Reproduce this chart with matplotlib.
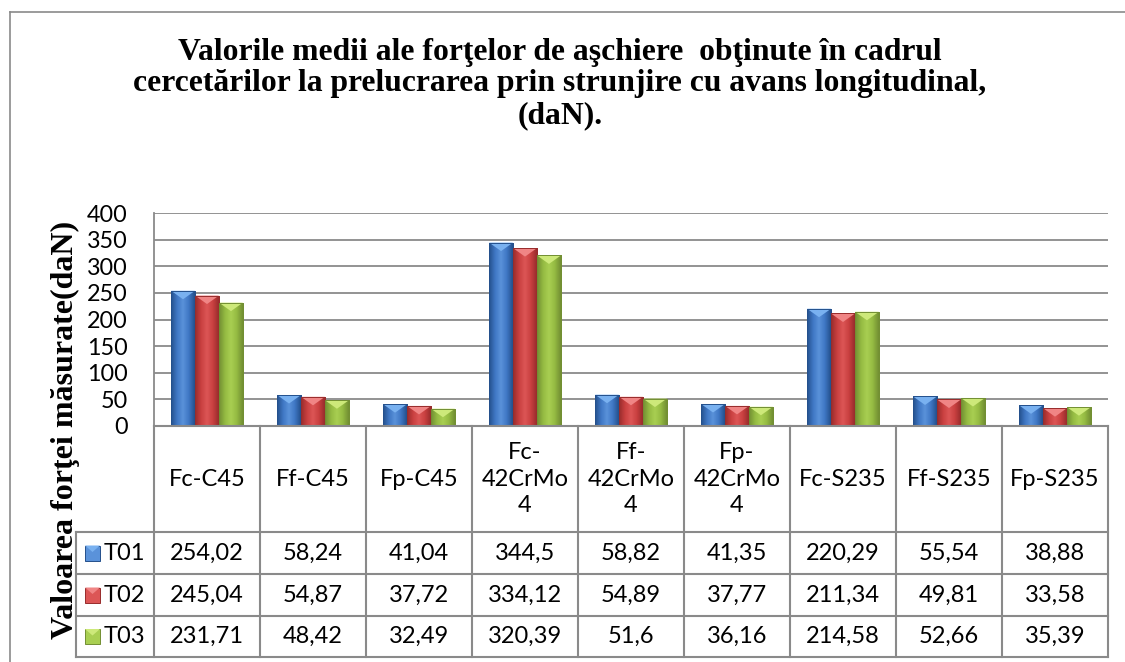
import numpy as np
import matplotlib
matplotlib.use('Agg')
import matplotlib.pyplot as plt
from matplotlib.colors import LinearSegmentedColormap
from matplotlib.patches import Polygon, Rectangle
from matplotlib.lines import Line2D

# ── Data ──
categories = ['Fc-C45', 'Ff-C45', 'Fp-C45', 'Fc-\n42CrMo\n4', 'Ff-\n42CrMo\n4',
              'Fp-\n42CrMo\n4', 'Fc-S235', 'Ff-S235', 'Fp-S235']
series_names = ['T01', 'T02', 'T03']
t01 = [254.02, 58.24, 41.04, 344.5, 58.82, 41.35, 220.29, 55.54, 38.88]
t02 = [245.04, 54.87, 37.72, 334.12, 54.89, 37.77, 211.34, 49.81, 33.58]
t03 = [231.71, 48.42, 32.49, 320.39, 51.6, 36.16, 214.58, 52.66, 35.39]
yticks = [0, 50, 100, 150, 200, 250, 300, 350, 400]

title = ('Valorile medii ale forţelor de aşchiere  obţinute în cadrul\n'
         'cercetărilor la prelucrarea prin strunjire cu avans longitudinal,\n'
         '(daN).')
ylabel = 'Valoarea forţei măsurate(daN)'

# (dark edge, body, light, highlight for the bevel)
palette = [
    ('#24508C', '#3F77C4', '#5A92DA', '#79B1F0'),
    ('#982C2C', '#C94040', '#DC5656', '#F08585'),
    ('#728F33', '#94BA42', '#A9CF52', '#CDE97A'),
]
GRID = '#8A8A8A'

W, H = 1125, 662
fig = plt.figure(figsize=(W / 100, H / 100), dpi=100)
fx = lambda px: px / W
fy = lambda py: 1 - py / H

serif = 'Liberation Serif'
sans = 'Lato'

# outer chart frame (only top/left edges fall inside the image)
fig.add_artist(Line2D([fx(10), fx(1125)], [fy(12), fy(12)], transform=fig.transFigure, color=GRID, lw=1.2))
fig.add_artist(Line2D([fx(10), fx(10)], [fy(12), fy(662)], transform=fig.transFigure, color=GRID, lw=1.2))

fig.text(fx(560), fy(84), title, ha='center', va='center', fontsize=22.8,
         fontweight='bold', family=serif, linespacing=1.13)
fig.text(fx(65), fy(430), ylabel, ha='center', va='center', rotation=90,
         fontsize=23, fontweight='bold', family=serif)

# ── Bars ──
L, R, T, B = 154, 1108, 213, 426
ax = fig.add_axes([fx(L), fy(B), (R - L) / W, (B - T) / H])
n = len(categories)
x = np.arange(n)
bw = 0.226


def shade_bar(ax, p, cols, tri_h):
    dark, body, light, hi = cols
    x0, w, h = p.get_x(), p.get_width(), p.get_height()
    cmap = LinearSegmentedColormap.from_list('b', [dark, body, light, body, dark])
    grad = np.linspace(0, 1, 64).reshape(1, -1)
    im = ax.imshow(grad, cmap=cmap, extent=(x0, x0 + w, 0, h), aspect='auto',
                   zorder=3, interpolation='bilinear')
    im.set_clip_path(p)
    tri = Polygon([(x0, h), (x0 + w, h), (x0 + w / 2, h - min(tri_h, h))],
                  closed=True, facecolor=hi, edgecolor='none', zorder=4)
    ax.add_patch(tri)


for i, vals in enumerate([t01, t02, t03]):
    bars = ax.bar(x + (i - 1) * bw, vals, width=bw, color=palette[i][1],
                  edgecolor=palette[i][0], linewidth=0.7, zorder=3)
    for p in bars:
        shade_bar(ax, p, palette[i], 16)
        # outline drawn over the gradient
        ax.add_patch(Rectangle((p.get_x(), 0), p.get_width(), p.get_height(),
                               fill=False, edgecolor=palette[i][0], lw=0.7, zorder=5))

ax.set_xlim(-0.5, n - 0.5)
ax.set_ylim(0, 400)
ax.set_yticks(yticks)
ax.set_xticks([])
ax.yaxis.grid(True, color=GRID, lw=1.3, zorder=0)
ax.set_axisbelow(True)
for s in ['top', 'right', 'bottom']:
    ax.spines[s].set_visible(False)
ax.spines['left'].set_color(GRID)
ax.spines['left'].set_linewidth(1.3)
ax.tick_params(axis='y', length=0, pad=19, labelsize=16.8)
for lab in ax.get_yticklabels():
    lab.set_family(sans)

# ── Data table ──
TB = 657
tab = fig.add_axes([fx(L), fy(TB), (R - L) / W, (TB - B) / H])
tab.set_xlim(-0.5, n - 0.5)
tab.set_ylim(TB, B)
tab.axis('off')
upx = n / (R - L)              # category units per pixel
leg_left = -0.5 - (L - 76) * upx
rows = [B, 532, 574, 616, TB]

kw = dict(color=GRID, lw=1.5, clip_on=False)
tab.plot([-0.5, n - 0.5], [B, B], **kw)
for yy in rows[1:]:
    tab.plot([leg_left, n - 0.5], [yy, yy], **kw)
for k in range(n + 1):
    tab.plot([k - 0.5, k - 0.5], [B, TB], **kw)
tab.plot([leg_left, leg_left], [rows[1], TB], **kw)

FS = 17
for k, c in enumerate(categories):
    tab.text(k, (rows[0] + rows[1]) / 2, c, ha='center', va='center',
             fontsize=FS, family=sans, linespacing=1.35)

for r, (name, vals) in enumerate(zip(series_names, [t01, t02, t03])):
    yc = (rows[r + 1] + rows[r + 2]) / 2
    for k, v in enumerate(vals):
        tab.text(k, yc, str(v).replace('.', ','), ha='center', va='center',
                 fontsize=FS, family=sans)
    # legend key
    dark, body, light, hi = palette[r]
    sx0 = -0.5 - (L - 85) * upx
    sw = 15 * upx
    sq = Rectangle((sx0, yc + 7.5), sw, -15, facecolor=light, edgecolor=dark,
                   lw=0.7, clip_on=False, zorder=3)
    tab.add_patch(sq)
    tab.add_patch(Polygon([(sx0, yc - 7.5), (sx0 + sw, yc - 7.5), (sx0 + sw / 2, yc - 1)],
                          facecolor=hi, edgecolor='none', clip_on=False, zorder=4))
    tab.text(-0.5 - (L - 104) * upx, yc, name, ha='left', va='center',
             fontsize=FS, family=sans)

fig.savefig('out.png', dpi=100)
